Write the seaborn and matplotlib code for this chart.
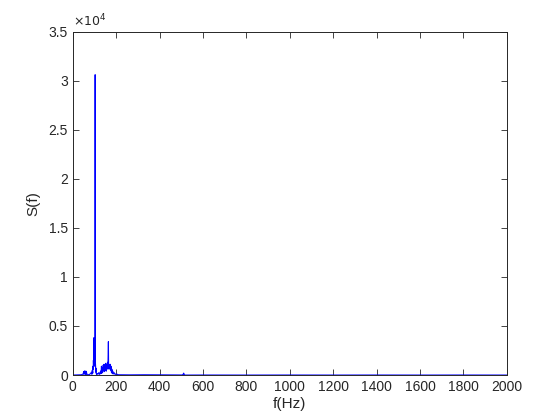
import numpy as np
import pandas as pd
import matplotlib
matplotlib.use('Agg')
import matplotlib.pyplot as plt
from matplotlib.ticker import FuncFormatter, MultipleLocator
import seaborn as sns

# spectrum values (Hz, S(f))
freq = [0, 40, 48, 50, 52, 54, 56, 58, 60, 62, 64, 66, 70, 76, 82, 86, 88, 90, 92, 93, 94,
        95, 96, 97, 98, 99, 100, 101, 102, 103, 104, 105, 106, 107, 108, 110, 113, 116,
        120, 124, 128, 130, 132, 134, 136, 138, 140, 142, 144, 146, 148, 150, 152, 154,
        156, 158, 160, 161, 162, 163, 164, 165, 166, 167, 168, 170, 172, 174, 176, 178,
        180, 182, 184, 186, 190, 195, 200, 210, 260, 330, 420, 505, 509, 511, 513, 515,
        519, 600, 800, 1000, 1200, 1400, 1600, 1800, 2000]
S = [0, 30, 120, 350, 80, 420, 150, 400, 60, 380, 200, 40, 20, 60, 150, 300, 80, 500, 200,
     900, 600, 1500, 900, 3800, 1200, 3500, 1000, 2000, 900, 30600, 1400, 900, 300, 700, 150,
     60, 150, 80, 250, 60, 400, 150, 900, 200, 700, 300, 1000, 450, 1100, 350, 900, 500, 1200,
     400, 1000, 600, 1300, 900, 1200, 2000, 3400, 900, 1100, 600, 1000, 700, 1100, 500, 900,
     300, 600, 150, 400, 100, 250, 60, 120, 30, 20, 30, 20, 10, 100, 200, 80, 10, 0, 5, 0,
     5, 0, 5, 0, 5, 0]

df = pd.DataFrame({'f': freq, 'S': S})

sns.set_style('white')
plt.rcParams['font.family'] = ['Liberation Sans', 'DejaVu Sans']

fig = plt.figure(figsize=(5.6, 4.2), dpi=100)
ax = fig.add_axes([0.13, 0.107, 0.775, 0.818])

sns.lineplot(data=df, x='f', y='S', ax=ax, color=(0, 0, 1), linewidth=0.8,
             estimator=None, sort=False)

ax.set_xlim(0, 2000)
ax.set_ylim(0, 35000)
ax.xaxis.set_major_locator(MultipleLocator(200))
ax.yaxis.set_major_locator(MultipleLocator(5000))
ax.yaxis.set_major_formatter(FuncFormatter(lambda v, p: f'{v/1e4:g}'))
ax.text(0.0, 1.005, r'$\times10^{4}$', transform=ax.transAxes, fontsize=9,
        color='#262626', ha='left', va='bottom')

ax.set_xlabel('f(Hz)', fontsize=11, color='#262626', labelpad=2)
ax.set_ylabel('S(f)', fontsize=11, color='#262626', labelpad=6)
ax.tick_params(direction='in', length=4, width=0.6, labelsize=10, colors='#262626',
               top=True, right=True, bottom=True, left=True)
for sp in ax.spines.values():
    sp.set_color('#262626')
    sp.set_linewidth(0.7)

plt.savefig('out.png', dpi=100)
